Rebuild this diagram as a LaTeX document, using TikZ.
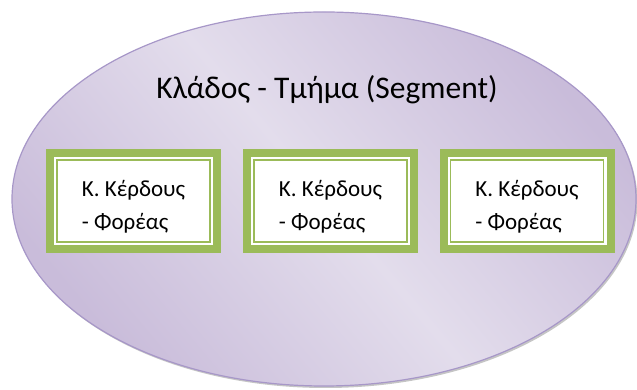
\documentclass[tikz,border=0pt]{standalone}
\usepackage{fontspec}
\setmainfont{Carlito}
\usepackage{tikz}
\usetikzlibrary{calc,shapes.geometric,shadows}
\definecolor{seglight}{HTML}{E3DDEC}
\definecolor{segdark}{HTML}{C9BCDA}
\definecolor{segline}{HTML}{A797C8}
\definecolor{boxgreen}{HTML}{9BBB59}
\tikzset{
  segment/.style={ellipse,draw=segline,line width=1.2pt,inner sep=0pt,
    minimum width=624pt,minimum height=374pt,
    top color=segdark,bottom color=segdark,middle color=seglight,shading angle=-50,
    drop shadow={shadow xshift=1.5pt,shadow yshift=-2pt,fill=black!45}},
  unitbox/.style={rectangle,draw=boxgreen,line width=8pt,fill=white,inner sep=0pt,
    outer sep=0pt,minimum width=167pt,minimum height=96pt,align=left,
    font=\fontsize{23}{33}\selectfont},
  innerline/.style={draw=boxgreen,line width=1.8pt}
}
\begin{document}
\begin{tikzpicture}[x=1pt,y=1pt]
\useasboundingbox (0,0) rectangle (637,390);
\node[segment] (seg) at (324,191) {};
\node[anchor=base,font=\fontsize{31.5}{36}\selectfont] (title) at (327,291) {Κλάδος - Τμήμα (Segment)};
% three profit centres inside the segment (strut pushes the two lines a bit lower)
\foreach \i/\x in {1/133.5,2/330.5,3/527}{
  \node[unitbox] (pc\i) at (\x,189) {\rule{0pt}{28pt}Κ. Κέρδους\\- Φορέας};
  \draw[innerline] ($(pc\i.south west)+(7,7)$) rectangle ($(pc\i.north east)-(7,7)$);
}
\end{tikzpicture}
\end{document}
